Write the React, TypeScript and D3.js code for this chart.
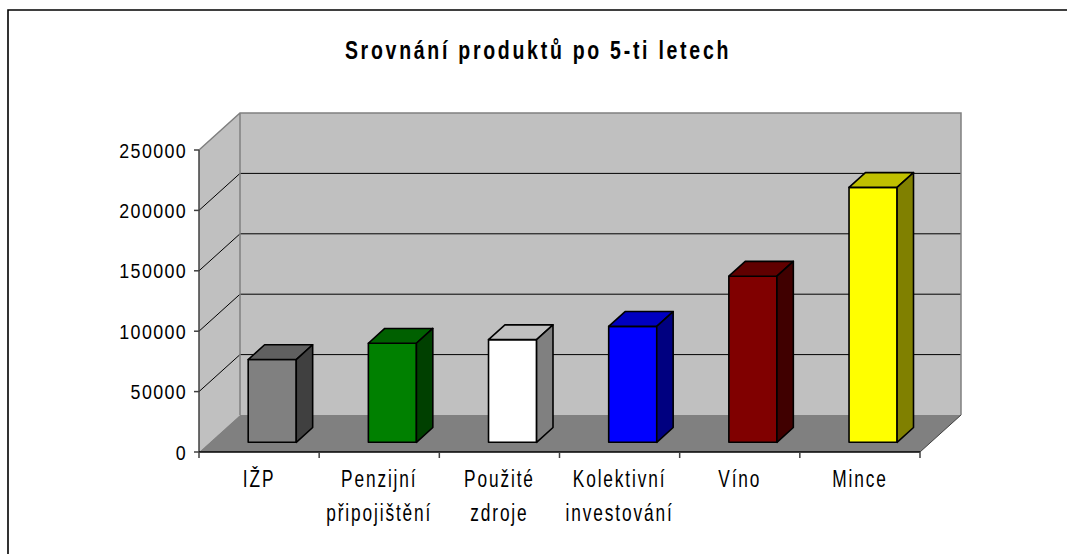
import { useEffect, useRef } from "react";
import * as d3 from "d3";

const title = "Srovnání produktů po 5-ti letech";
const categories = [
  "IŽP",
  "Penzijní připojištění",
  "Použité zdroje",
  "Kolektivní investování",
  "Víno",
  "Mince",
];
const values = [68500, 82000, 85000, 96000, 137500, 211000];
const yTicks = [0, 50000, 100000, 150000, 200000, 250000];

// front / top / side shades per bar
const barColors = [
  ["#808080", "#606060", "#404040"],
  ["#008000", "#006000", "#004000"],
  ["#ffffff", "#c0c0c0", "#808080"],
  ["#0000ff", "#0000c0", "#000080"],
  ["#800000", "#600000", "#400000"],
  ["#ffff00", "#c0c000", "#808000"],
];

const W = 1067;
const H = 554;

const App = () => {
  const svgRef = useRef<SVGSVGElement>(null);

  useEffect(() => {
    const svg = d3.select(svgRef.current);
    svg.selectAll("*").remove();

    // depth of the 3d box
    const dx = 41;
    const dy = -37;

    const xScale = d3.scaleBand().domain(categories).range([199, 920]);
    const yScale = d3.scaleLinear().domain([0, 250000]).range([452, 150]);
    const bw = xScale.bandwidth();
    const x0 = 199;
    const x1 = 920;
    const yBot = yScale(0);
    const yTop = yScale(250000);

    // outer frame (runs past the page)
    svg
      .append("path")
      .attr("d", `M8,${H + 10} V10 H${W + 10}`)
      .attr("fill", "none")
      .attr("stroke", "#000")
      .attr("stroke-width", 1.6);

    // title
    svg
      .append("text")
      .attr("transform", `translate(538,59) scale(0.78,1)`)
      .attr("text-anchor", "middle")
      .attr("font-family", "Liberation Sans, Arial, sans-serif")
      .attr("font-weight", "bold")
      .attr("font-size", 25)
      .attr("letter-spacing", 3.5)
      .attr("fill", "#000")
      .text(title);

    // side wall
    svg
      .append("polygon")
      .attr(
        "points",
        [
          [x0, yBot],
          [x0, yTop],
          [x0 + dx, yTop + dy],
          [x0 + dx, yBot + dy],
        ].join(" ")
      )
      .attr("fill", "#c0c0c0");

    // back wall
    svg
      .append("rect")
      .attr("x", x0 + dx)
      .attr("y", yTop + dy)
      .attr("width", x1 - x0)
      .attr("height", yBot - yTop)
      .attr("fill", "#c0c0c0");

    // floor
    svg
      .append("polygon")
      .attr(
        "points",
        [
          [x0, yBot],
          [x0 + dx, yBot + dy],
          [x1 + dx, yBot + dy],
          [x1, yBot],
        ].join(" ")
      )
      .attr("fill", "#808080");

    // gridlines on back and side wall
    const grid = yTicks.filter((t) => t > 0 && t < 250000);
    grid.forEach((t) => {
      const y = yScale(t);
      svg
        .append("path")
        .attr("d", `M${x0},${y} L${x0 + dx},${y + dy} H${x1 + dx}`)
        .attr("fill", "none")
        .attr("stroke", "#000")
        .attr("stroke-width", 1);
    });

    // wall edges
    svg
      .append("path")
      .attr(
        "d",
        `M${x0},${yTop} L${x0 + dx},${yTop + dy} H${x1 + dx} V${yBot + dy} M${x0 + dx},${yTop + dy} V${yBot + dy}`
      )
      .attr("fill", "none")
      .attr("stroke", "#808080")
      .attr("stroke-width", 1.5);

    svg
      .append("path")
      .attr("d", `M${x1},${yBot} L${x1 + dx},${yBot + dy}`)
      .attr("stroke", "#404040")
      .attr("stroke-width", 1);

    // bars
    const d0 = 0.262;
    const bd = 0.4;
    const offset = 0.32;
    categories.forEach((c, i) => {
      const [front, top, side] = barColors[i];
      const left = (xScale(c) as number) + offset * bw + d0 * dx;
      const right = left + 0.4 * bw;
      const bottom = yBot + d0 * dy;
      const ty = yScale(values[i]) + d0 * dy;
      const ox = bd * dx;
      const oy = bd * dy;
      const g = svg
        .append("g")
        .attr("stroke", "#000")
        .attr("stroke-width", 1.6)
        .attr("stroke-linejoin", "round");
      g.append("rect")
        .attr("x", left)
        .attr("y", ty)
        .attr("width", right - left)
        .attr("height", bottom - ty)
        .attr("fill", front);
      g.append("polygon")
        .attr(
          "points",
          [
            [left, ty],
            [left + ox, ty + oy],
            [right + ox, ty + oy],
            [right, ty],
          ].join(" ")
        )
        .attr("fill", top);
      g.append("polygon")
        .attr(
          "points",
          [
            [right, ty],
            [right + ox, ty + oy],
            [right + ox, bottom + oy],
            [right, bottom],
          ].join(" ")
        )
        .attr("fill", side);
    });

    // y axis
    svg
      .append("line")
      .attr("x1", x0)
      .attr("x2", x0)
      .attr("y1", yTop)
      .attr("y2", yBot)
      .attr("stroke", "#404040")
      .attr("stroke-width", 1.5);

    yTicks.forEach((t) => {
      const y = yScale(t);
      svg
        .append("line")
        .attr("x1", x0 - 5)
        .attr("x2", x0)
        .attr("y1", y)
        .attr("y2", y)
        .attr("stroke", "#404040")
        .attr("stroke-width", 1.5);
      svg
        .append("text")
        .attr("transform", `translate(187,${y + 7.5}) scale(0.85,1)`)
        .attr("text-anchor", "end")
        .attr("font-family", "Liberation Sans, Arial, sans-serif")
        .attr("font-size", 21)
        .attr("letter-spacing", 1.6)
        .attr("fill", "#000")
        .text(t);
    });

    // x axis
    svg
      .append("line")
      .attr("x1", x0)
      .attr("x2", x1)
      .attr("y1", yBot)
      .attr("y2", yBot)
      .attr("stroke", "#000")
      .attr("stroke-width", 1.5);

    const xTicks = categories.map((c) => xScale(c) as number).concat([x1]);
    xTicks.forEach((x) => {
      svg
        .append("line")
        .attr("x1", x)
        .attr("x2", x)
        .attr("y1", yBot)
        .attr("y2", yBot + 6)
        .attr("stroke", "#404040")
        .attr("stroke-width", 1.5);
    });

    categories.forEach((c) => {
      const cx = (xScale(c) as number) + bw / 2;
      c.split(" ").forEach((line, j) => {
        svg
          .append("text")
          .attr("transform", `translate(${cx},${487 + j * 34}) scale(0.72,1)`)
          .attr("text-anchor", "middle")
          .attr("font-family", "Liberation Sans, Arial, sans-serif")
          .attr("font-size", 24)
          .attr("letter-spacing", 2.6)
          .attr("fill", "#000")
          .text(line);
      });
    });
  }, []);

  return (
    <svg
      ref={svgRef}
      width={W}
      height={H}
      style={{ position: "fixed", left: 0, top: 0, background: "#fff" }}
    />
  );
};

export default App;
